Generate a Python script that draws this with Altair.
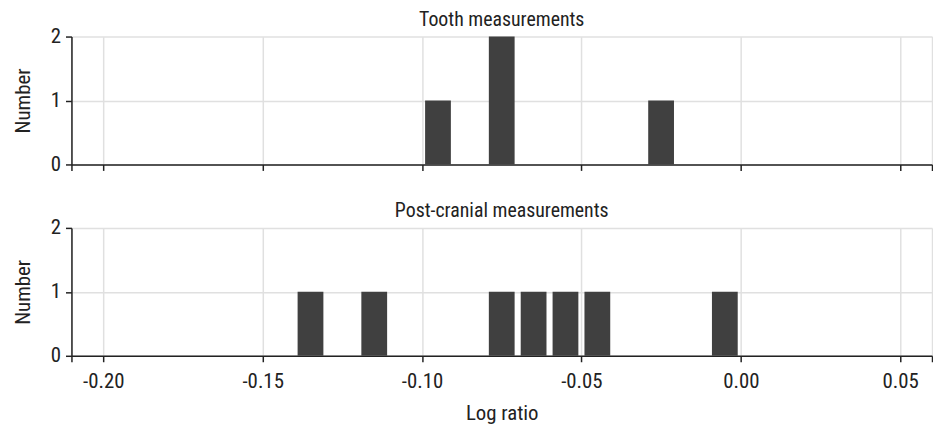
import altair as alt
import pandas as pd

# ---- data ----
bin_width = 0.01
tooth_bin_starts = [-0.10, -0.08, -0.03]
tooth_counts = [1, 2, 1]
post_bin_starts = [-0.14, -0.12, -0.08, -0.07, -0.06, -0.05, -0.01]
post_counts = [1, 1, 1, 1, 1, 1, 1]

x_domain = [-0.21, 0.06]
x_ticks = [-0.20, -0.15, -0.10, -0.05, 0.00, 0.05]
y_domain = [0, 2]
y_tick_count = 3

panel_titles = ["Tooth measurements", "Post-cranial measurements"]
x_title = "Log ratio"
y_title = "Number"

FONT = "Roboto Condensed, Liberation Sans Narrow, Arial Narrow, sans-serif"
TEXT = "#222222"
BAR = "#404040"


def frame(starts, counts):
    return pd.DataFrame({
        "center": [s + bin_width / 2 for s in starts],
        "count": counts,
    })


label_expr = (
    "datum.value < -0.205 || datum.value > 0.055 ? '' : "
    "replace(format(datum.value, '.2f'), '\u2212', '-')"
)


def panel(df, title, bottom):
    x_axis = alt.Axis(
        values=x_ticks + x_domain,
        labels=bottom,
        labelExpr=label_expr,
        title=x_title if bottom else None,
        tickSize=6,
        labelPadding=9,
        titlePadding=11,
        labelOverlap=False,
    )
    y_axis = alt.Axis(
        tickCount=y_tick_count, format="d", title=y_title,
        tickSize=6, labelPadding=5, titlePadding=17, labelOverlap=False,
    )
    return (
        alt.Chart(df)
        .mark_bar(color=BAR, size=26)
        .encode(
            x=alt.X("center:Q",
                    scale=alt.Scale(domain=x_domain, nice=False, zero=False, padding=0),
                    axis=x_axis),
            y=alt.Y("count:Q",
                    scale=alt.Scale(domain=y_domain, nice=False, padding=0),
                    axis=y_axis),
        )
        .properties(
            width=868,
            height=129,
            title=alt.TitleParams(title, font=FONT, fontSize=20, fontWeight="normal",
                                  color=TEXT, anchor="middle", frame="group",
                                  offset=-4),
        )
    )


top = panel(frame(tooth_bin_starts, tooth_counts), panel_titles[0], False)
bottom = panel(frame(post_bin_starts, post_counts), panel_titles[1], True)

chart = (
    alt.vconcat(top, bottom, spacing=27)
    .properties(padding={"left": 4, "top": 0, "right": 0, "bottom": 0})
    .configure_view(stroke=None)
    .configure_axis(
        labelFont=FONT, titleFont=FONT,
        labelFontSize=21, titleFontSize=21, titleFontWeight="normal",
        labelColor=TEXT, titleColor=TEXT,
        domainColor=TEXT, tickColor=TEXT, domainWidth=1.5, tickWidth=1.5,
        gridColor="#e0e0e0", gridWidth=1.5,
    )
)

chart.save("out.html", embed_options={"renderer": "svg", "actions": False})
